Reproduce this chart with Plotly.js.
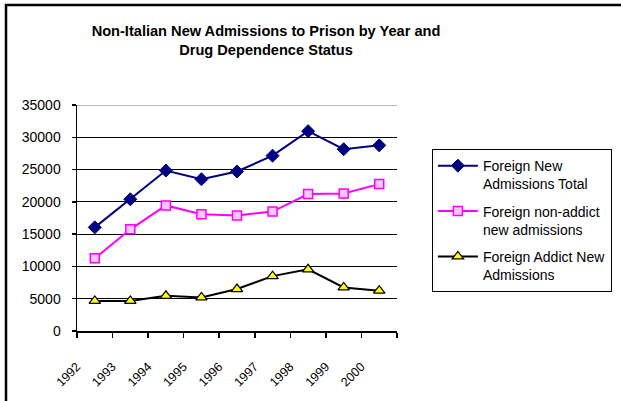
<!DOCTYPE html>
<html>
<head>
<meta charset="utf-8">
<script src="https://cdn.plot.ly/plotly-3.0.1.min.js"></script>
<style>
  html, body { margin: 0; padding: 0; background: #fff; }
  #chart { width: 621px; height: 401px; }
</style>
</head>
<body>
<div id="chart"></div>
<script>
const years = ['1992', '1993', '1994', '1995', '1996', '1997', '1998', '1999', '2000'];
const foreignTotal = [16050, 20400, 24850, 23500, 24700, 27150, 30950, 28150, 28750];
const foreignNonAddict = [11250, 15750, 19450, 18100, 17900, 18500, 21200, 21300, 22750];
const foreignAddict = [4650, 4650, 5450, 5200, 6500, 8500, 9550, 6750, 6250];
const seriesNames = [
  'Foreign New<br>Admissions Total',
  'Foreign non-addict<br>new admissions',
  'Foreign Addict New<br>Admissions'
];
const yTicks = [0, 5000, 10000, 15000, 20000, 25000, 30000, 35000];

const FONT = 'Liberation Sans, Arial, sans-serif';

const traces = [
  {
    x: years, y: foreignTotal, name: seriesNames[0], type: 'scatter', mode: 'lines+markers',
    legendgroup: 'g1',
    line: { color: '#000080', width: 2 },
    marker: { symbol: 'diamond', size: 10, color: '#000080', line: { color: '#000080', width: 1 } }
  },
  {
    x: years, y: foreignNonAddict, name: seriesNames[1], type: 'scatter', mode: 'lines+markers',
    legendgroup: 'g2',
    line: { color: '#FF00FF', width: 2 },
    marker: { symbol: 'square', size: 9, color: '#FFC8FF', line: { color: '#FF00FF', width: 1.5 } }
  },
  {
    x: years, y: foreignAddict, name: seriesNames[2], type: 'scatter', mode: 'lines+markers',
    legendgroup: 'g3',
    line: { color: '#000000', width: 2 },
    marker: { symbol: 'triangle-up', size: 10, color: '#FFFF00', line: { color: '#000000', width: 1.2 } }
  }
];

const layout = {
  width: 621, height: 401,
  margin: { l: 77, r: 224, t: 105, b: 70, autoexpand: false },
  paper_bgcolor: '#ffffff', plot_bgcolor: '#ffffff',
  font: { family: FONT, color: '#000000', size: 13 },
  title: {
    text: '<b>Non-Italian New Admissions to Prison by Year and<br>Drug Dependence Status</b>',
    font: { family: FONT, size: 14.6, color: '#000000' },
    x: 266 / 621, xanchor: 'center', xref: 'container',
    y: 1 - 36 / 401, yanchor: 'top', yref: 'container'
  },
  showlegend: true,
  legend: {
    x: 1.109, xanchor: 'left', y: 0.805, yanchor: 'top',
    bordercolor: '#000000', borderwidth: 1, bgcolor: '#ffffff',
    font: { family: FONT, size: 14, color: '#000000' },
    valign: 'top', traceorder: 'grouped', tracegroupgap: 6, itemwidth: 40
  },
  xaxis: {
    type: 'category', categoryorder: 'array', categoryarray: years,
    range: [-0.5, years.length - 0.5],
    tickson: 'boundaries', ticks: 'outside', ticklen: 5, tickwidth: 1.5, tickcolor: '#000000',
    showline: true, linecolor: '#000000', linewidth: 1.5,
    showgrid: false, zeroline: false,
    tickangle: -45, tickfont: { family: FONT, size: 12.5, color: '#000000' },
    ticklabelshift: -18, ticklabelstandoff: 22,
    fixedrange: true
  },
  yaxis: {
    range: [0, 35000], tickvals: yTicks, ticktext: yTicks.map(String),
    ticks: 'outside', ticklen: 4, tickwidth: 1.5, tickcolor: '#000000',
    showline: true, linecolor: '#000000', linewidth: 1.5,
    showgrid: true, gridcolor: '#000000', gridwidth: 1.2,
    zeroline: false,
    tickfont: { family: FONT, size: 14, color: '#000000' },
    ticklabelstandoff: 8,
    fixedrange: true
  },
  shapes: [
    { type: 'line', xref: 'paper', yref: 'y', x0: 0, x1: 1, y0: yTicks[yTicks.length - 1], y1: yTicks[yTicks.length - 1],
      line: { color: '#BBBBBB', width: 2 } },
    { type: 'rect', xref: 'paper', yref: 'paper', x0: (6 - 77) / 320, x1: (640 - 77) / 320,
      y0: (331 - 420) / 226, y1: (331 - 5) / 226, line: { color: '#000000', width: 2.5 }, fillcolor: 'rgba(0,0,0,0)' }
  ]
};

Plotly.newPlot('chart', traces, layout, { displayModeBar: false, staticPlot: true });
</script>
</body>
</html>
